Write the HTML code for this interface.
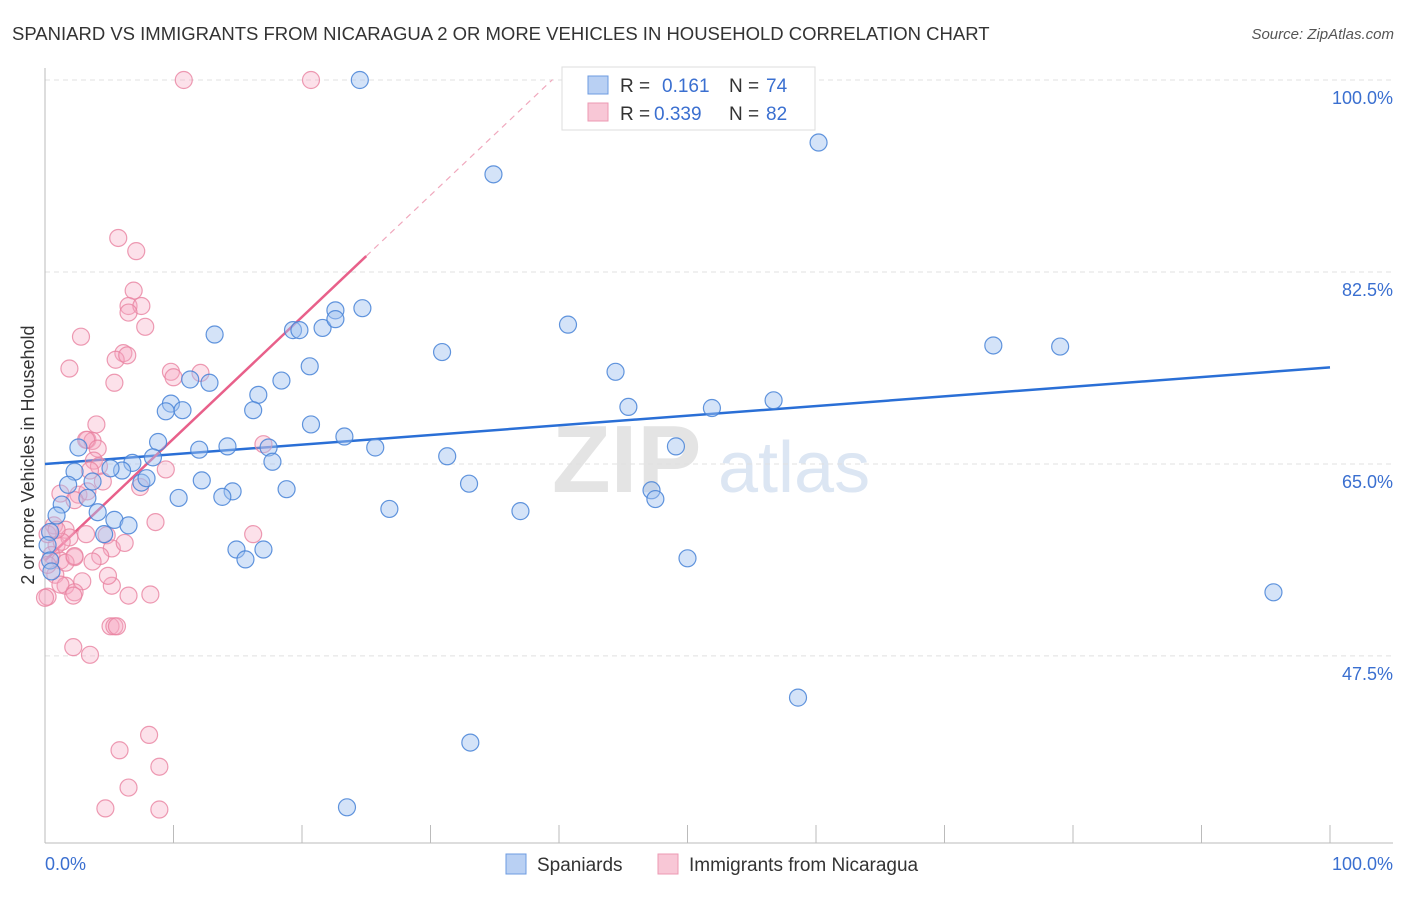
<!DOCTYPE html>
<html><head><meta charset="utf-8"><style>
body{margin:0;background:#fff;font-family:"Liberation Sans",sans-serif;}
svg text{font-family:"Liberation Sans",sans-serif;}
</style></head><body>
<svg width="1406" height="892" viewBox="0 0 1406 892">
<text x="12" y="40" font-size="18.5" fill="#333">SPANIARD VS IMMIGRANTS FROM NICARAGUA 2 OR MORE VEHICLES IN HOUSEHOLD CORRELATION CHART</text>
<text x="1394" y="39" font-size="15" fill="#555" font-style="italic" text-anchor="end">Source: ZipAtlas.com</text>
<g>
<text x="552" y="492" font-size="96" fill="#e4e4e4" font-weight="bold" font-family="Liberation Serif">ZIP</text>
<text x="718" y="492" font-size="72" fill="#dce6f3">atlas</text>
</g>
<g id="grid"></g>
<g id="axes"></g>
<g id="lines"></g>
<g id="pts"></g>
<text x="34" y="455" font-size="18" fill="#333" text-anchor="middle" transform="rotate(-90 34 455)">2 or more Vehicles in Household</text>
<g>
<rect x="562" y="67" width="253" height="63" fill="#fff" stroke="#ddd"/>
<rect x="588" y="76" width="20" height="18" fill="#b9d0f3" stroke="#6d9be0"/>
<rect x="588" y="103" width="20" height="18" fill="#f8c7d6" stroke="#ec9ab3"/>
<text x="620" y="92" font-size="19" fill="#333">R = </text><text x="662" y="92" font-size="19" fill="#3a6fd0">0.161</text>
<text x="729" y="92" font-size="19" fill="#333">N = </text><text x="766" y="92" font-size="19" fill="#3a6fd0">74</text>
<text x="620" y="120" font-size="19" fill="#333">R = </text><text x="654" y="120" font-size="19" fill="#3a6fd0">0.339</text>
<text x="729" y="120" font-size="19" fill="#333">N = </text><text x="766" y="120" font-size="19" fill="#3a6fd0">82</text>
</g>
<g>
<rect x="506" y="854" width="20" height="20" fill="#b9d0f3" stroke="#6d9be0"/>
<text x="537" y="871" font-size="19" fill="#333">Spaniards</text>
<rect x="658" y="854" width="20" height="20" fill="#f8c7d6" stroke="#ec9ab3"/>
<text x="689" y="871" font-size="19" fill="#333">Immigrants from Nicaragua</text>
</g>
</svg>
<script>
const yTicks=[100,82.5,65,47.5];
const yTickLabels=["100.0%","82.5%","65.0%","47.5%"];
const xTickLabels=["0.0%","100.0%"];
const blueX=[24.5,60.2,34.9,40.7,73.8,79.0,30.9,44.4,45.4,51.9,56.7,49.1,31.3,33.0,47.2,47.5,37.0,26.8,50.0,95.6,58.6,33.1,23.5,49.3,13.2,19.3,19.8,21.6,22.6,22.6,24.7,20.6,18.4,16.6,16.2,12.8,11.3,9.8,9.4,10.7,20.7,23.3,25.7,17.4,17.7,14.2,12.0,8.8,8.4,6.8,6.0,5.1,7.5,7.9,12.2,14.6,13.8,18.8,10.4,2.3,2.6,1.8,3.7,3.3,1.3,4.1,5.4,6.5,4.6,0.9,0.4,0.2,0.4,0.5,14.9,15.6,17.0];
const blueY=[100,94.3,91.4,77.7,75.8,75.7,75.2,73.4,70.2,70.1,70.8,66.6,65.7,63.2,62.6,61.8,60.7,60.9,56.4,53.3,43.7,39.6,33.7,100,76.8,77.2,77.2,77.4,79.0,78.2,79.2,73.9,72.6,71.3,69.9,72.4,72.7,70.5,69.8,69.9,68.6,67.5,66.5,66.5,65.2,66.6,66.3,67.0,65.6,65.1,64.4,64.6,63.3,63.7,63.5,62.5,62.0,62.7,61.9,64.3,66.5,63.1,63.4,61.9,61.3,60.6,59.9,59.4,58.6,60.3,58.8,57.6,56.2,55.2,57.2,56.3,57.2];
const pinkX=[10.8,20.7,5.7,7.1,6.9,6.5,7.5,6.5,7.8,2.8,6.1,5.5,6.4,1.9,5.4,9.8,10.0,12.1,4.0,3.3,3.7,3.2,4.1,9.4,17.0,7.4,2.6,3.3,1.2,2.3,3.8,4.2,3.5,4.5,0.7,1.6,0.9,1.9,1.3,0.5,2.3,3.2,4.8,5.2,6.2,8.6,4.3,3.7,1.2,0.8,0.2,1.6,2.9,5.2,4.9,6.5,8.2,2.3,2.2,0.2,0,16.2,0.2,5.1,5.4,5.6,2.2,3.5,8.1,5.8,8.9,4.7,6.5,8.9,1.2,1.6,0.9,2.3];
const pinkY=[100,100,85.6,84.4,80.8,79.4,79.4,78.8,77.5,76.6,75.1,74.5,74.9,73.7,72.4,73.4,72.9,73.3,68.6,67.2,67.1,67.2,66.4,64.5,66.8,62.9,62.2,62.5,62.3,61.7,65.3,64.8,64.4,63.4,59.4,59.0,57.6,58.3,57.9,56.7,56.5,58.6,58.5,57.3,57.8,59.7,56.6,56.1,56.2,54.9,55.8,53.9,54.3,53.9,54.8,53.0,53.1,53.3,53.0,52.9,52.8,58.6,58.6,50.2,50.2,50.2,48.3,47.6,40.3,38.9,37.4,33.6,35.5,33.5,54.0,56.0,59.0,56.6];
const blueTrend=[65.0,0.088]; // intercept, slope
const pinkTrend=[56.2,1.11];
const NS="http://www.w3.org/2000/svg";
const X0=45,X1=1330,YT=80,YPER=10.97;
const sx=v=>X0+(X1-X0)*v/100;
const sy=v=>YT+(100-v)*YPER;
function mk(tag,attrs,parent){const e=document.createElementNS(NS,tag);for(const k in attrs)e.setAttribute(k,attrs[k]);parent.appendChild(e);return e;}
const grid=document.getElementById('grid'),axes=document.getElementById('axes'),lines=document.getElementById('lines'),pts=document.getElementById('pts');
yTicks.forEach((t,i)=>{
 const g=mk('line',{x1:45,x2:1393,y1:sy(t),y2:sy(t),stroke:'#e0e0e0','stroke-dasharray':'5,4'},grid);
 
 
 const tx=mk('text',{x:1393,y:sy(t)+24,'font-size':18,fill:'#3a6fd0','text-anchor':'end'},axes);
 tx.textContent=yTickLabels[i];
 
 
});
mk('line',{x1:45,x2:45,y1:68,y2:843,stroke:'#bbb'},axes);
mk('line',{x1:45,x2:1393,y1:843,y2:843,stroke:'#bbb'},axes);
for(let i=0;i<=10;i++){const t=mk('line',{x1:sx(i*10),x2:sx(i*10),y1:825,y2:843,stroke:'#bbb'},axes);
 
 }
const xl0=mk('text',{x:45,y:870,'font-size':18,fill:'#3a6fd0'},axes);xl0.textContent=xTickLabels[0];


const xl1=mk('text',{x:1393,y:870,'font-size':18,fill:'#3a6fd0','text-anchor':'end'},axes);xl1.textContent=xTickLabels[1];


function dots(xs,ys,fill,stroke,name){xs.forEach((x,i)=>{const c=mk('circle',{cx:sx(x),cy:sy(ys[i]),r:8.5,fill:fill,stroke:stroke,'stroke-width':1.2},pts);
 
 });}
dots(pinkX,pinkY,'rgba(246,170,195,0.35)','rgba(232,130,160,0.8)','nicaragua-point');
dots(blueX,blueY,'rgba(160,192,240,0.45)','rgba(70,130,215,0.85)','spaniard-point');
const bl=mk('line',{x1:sx(0),y1:sy(blueTrend[0]),x2:sx(100),y2:sy(blueTrend[0]+blueTrend[1]*100),stroke:'#2a6fd6','stroke-width':2.5},lines);


const pl=mk('line',{x1:sx(0),y1:sy(pinkTrend[0]),x2:sx(25),y2:sy(pinkTrend[0]+pinkTrend[1]*25),stroke:'#e8608a','stroke-width':2.5},lines);


const pd=mk('line',{x1:sx(25),y1:sy(pinkTrend[0]+pinkTrend[1]*25),x2:sx(39.5),y2:sy(pinkTrend[0]+pinkTrend[1]*39.5),stroke:'#f0a8bd','stroke-width':1.2,'stroke-dasharray':'6,5'},lines);


</script>
</body></html>
